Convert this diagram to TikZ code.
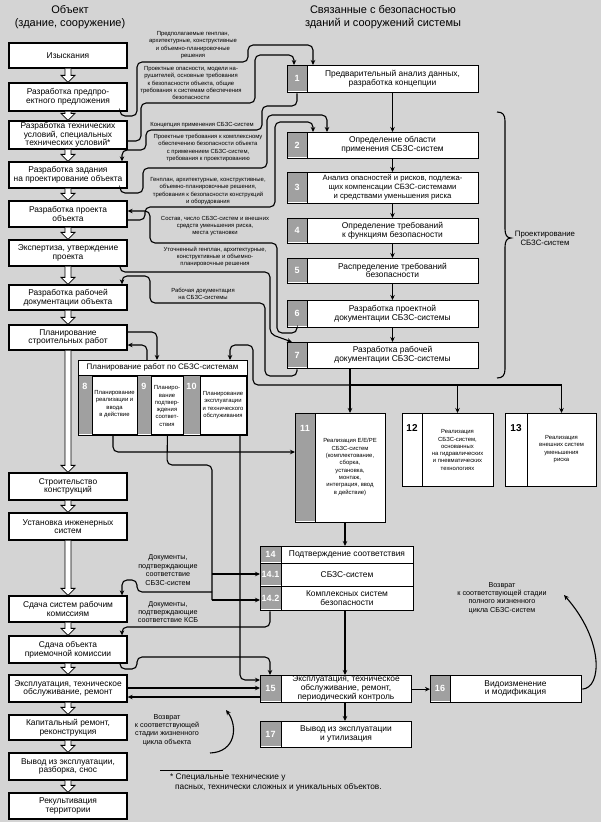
\documentclass[tikz,border=0pt]{standalone}
\usepackage{fontspec}
\setmainfont{Liberation Sans}
\usetikzlibrary{arrows.meta,calc}
\definecolor{bg}{HTML}{D4D4D4}
\definecolor{numgray}{HTML}{A0A0A0}
\newcommand\lbox[4]{\node[box,ltxt,minimum width=118,minimum height={#3-#2}] (#1) at (68,{(#2+#3)/2}) {#4};}
\newcommand\harrow[2]{\draw[hollow] ([xshift=-3pt]#1.south) -- ([xshift=-3pt,yshift=7pt]#2.north) -- ([xshift=-7pt,yshift=7pt]#2.north) -- (#2.north) -- ([xshift=7pt,yshift=7pt]#2.north) -- ([xshift=3pt,yshift=7pt]#2.north) -- ([xshift=3pt]#1.south);}
% name x1 y1 x2 y2 strip num numy text
\newcommand\nbox[9]{%
  \node[box,minimum width={#4-#2},minimum height={#5-#3},anchor=north west] (#1) at (#2,#3) {};
  \fill[numgray] ({#2+0.6},{#3+0.6}) rectangle ({#2+#6},{#5-0.6});
  \draw[line width=0.9pt] ({#2+#6},#3) -- ({#2+#6},#5);
  \node[ntxt] (#1n) at ({#2+#6/2},#8) {#7};
  \node[btxt] (#1t) at ({(#2+#6+#4)/2},{(#3+#5)/2}) {#9};}
\begin{document}
\begin{tikzpicture}[x=1pt,y=-1pt,
  box/.style={draw,line width=1.3pt,fill=white,inner sep=0pt},
  ltxt/.style={align=center,font=\fontsize{8.4}{8.7}\selectfont,inner sep=0pt},
  btxt/.style={align=center,font=\fontsize{8.4}{8.7}\selectfont,inner sep=0pt},
  stxt/.style={align=center,font=\fontsize{5.9}{7.3}\selectfont,inner sep=0pt},
  mtxt/.style={align=center,font=\fontsize{7.2}{8.4}\selectfont,inner sep=0pt},
  ntxt/.style={font=\bfseries\fontsize{9}{9}\selectfont,text=white,inner sep=0pt},
  con/.style={line width=1.1pt,rounded corners=5pt},
  arr/.style={con,-{Stealth[length=5pt,width=4.5pt]}},
  hollow/.style={fill=white,draw=black,line width=0.8pt},
]
\useasboundingbox (0,0) rectangle (606,822);
\fill[bg] (0,0) rectangle (601,822);
\fill[white] (601,0) rectangle (606,822);

% titles
\node[align=center,font=\fontsize{11}{13}\selectfont] (TL) at (70,17.5) {Объект\\(здание, сооружение)};
\node[align=center,font=\fontsize{11}{13}\selectfont] (TR) at (383,17.5) {Связанные с безопасностью\\зданий и сооружений системы};

% left column
\lbox{L1}{43}{68}{Изыскания}
\lbox{L2}{83}{111}{Разработка предпро-\\ектного предложения}
\lbox{L3}{121}{149}{Разработка технических\\условий, специальных\\технических условий*}
\lbox{L4}{162}{188}{Разработка задания\\на проектирование объекта}
\lbox{L5}{201}{227}{Разработка проекта\\объекта}
\lbox{L6}{240}{266}{Экспертиза, утверждение\\проекта}
\lbox{L7}{285}{310}{Разработка рабочей\\документации объекта}
\lbox{L8}{325}{350}{Планирование\\строительных работ}
\lbox{L9}{473}{500}{Строительство\\конструкций}
\lbox{L10}{513}{540}{Установка инженерных\\систем}
\lbox{L11}{596}{622}{Сдача систем рабочим\\комиссиям}
\lbox{L12}{636}{663}{Сдача объекта\\приемочной комиссии}
\lbox{L13}{675}{702}{Эксплуатация, техническое\\обслуживание, ремонт}
\lbox{L14}{715}{740}{Капитальный ремонт,\\реконструкция}
\lbox{L15}{753}{780}{Вывод из эксплуатации,\\разборка, снос}
\lbox{L16}{793}{819}{Рекультивация\\территории}
\harrow{L1}{L2}\harrow{L2}{L3}\harrow{L3}{L4}\harrow{L4}{L5}\harrow{L5}{L6}
\harrow{L6}{L7}\harrow{L7}{L8}\harrow{L8}{L9}\harrow{L9}{L10}\harrow{L10}{L11}
\harrow{L11}{L12}\harrow{L12}{L13}\harrow{L13}{L14}\harrow{L14}{L15}\harrow{L15}{L16}

% right column
\nbox{B1}{287}{65}{478}{92}{20}{1}{78.5}{Предварительный анализ данных,\\разработка концепции}
\nbox{B2}{287}{132}{478}{158}{20}{2}{145}{Определение области\\применения СБЗС-систем}
\nbox{B3}{287}{172}{478}{203}{20}{3}{187.5}{\fontsize{7.7}{8.7}\selectfont Анализ опасностей и рисков, подлежа-\\\fontsize{7.7}{8.7}\selectfont щих компенсации СБЗС-системами\\\fontsize{7.7}{8.7}\selectfont и средствами уменьшения риска}
\nbox{B4}{287}{218}{478}{243}{20}{4}{230.5}{Определение требований\\к функциям безопасности}
\nbox{B5}{287}{258}{478}{283}{20}{5}{270.5}{Распределение требований\\безопасности}
\nbox{B6}{287}{300}{478}{327}{20}{6}{313.5}{Разработка проектной\\документации СБЗС-системы}
\nbox{B7}{287}{342}{478}{368}{20}{7}{355}{Разработка рабочей\\документации СБЗС-системы}
\draw[arr] (B1t |- B1.south) -- (B1t |- B2.north);
\draw[arr] (B2t |- B2.south) -- (B2t |- B3.north);
\draw[arr] (B3t |- B3.south) -- (B3t |- B4.north);
\draw[arr] (B4t |- B4.south) -- (B4t |- B5.north);
\draw[arr] (B5t |- B5.south) -- (B5t |- B6.north);
\draw[arr] (B6t |- B6.south) -- (B6t |- B7.north);

% brace
\draw[line width=1.1pt] (497,112) .. controls (503,112) and (505,115) .. (505,121) -- (505,229) .. controls (505,235) and (507,238) .. (511,238) .. controls (507,238) and (505,241) .. (505,247) -- (505,369) .. controls (505,375) and (503,378) .. (497,378);
\node[mtxt,font=\fontsize{7.8}{9}\selectfont] (BR) at (545,238) {Проектирование\\СБЗС-систем};

% planning box
\node[box,minimum width=169,minimum height=75,anchor=north west] (P) at (78,360) {};
\draw[line width=1pt] (78,375) -- (247,375);
\node[btxt,font=\fontsize{8}{9}\selectfont] (Ph) at (162.5,367.5) {Планирование работ по СБЗС-системам};
\fill[numgray] (78.7,375.5) rectangle (246.3,434.3);
\node[box,line width=0.9pt,minimum width=45,minimum height=58,anchor=north west] (P8) at (92,376) {};
\node[box,line width=0.9pt,minimum width=32,minimum height=58,anchor=north west] (P9) at (151,376) {};
\node[box,line width=0.9pt,minimum width=46,minimum height=58,anchor=north west] (P10) at (200,376) {};
\node[ntxt] (P8n) at (85,386) {8};
\node[ntxt] (P9n) at (144,386) {9};
\node[ntxt] (P10n) at (191.5,386) {10};
\node[stxt] (P8t) at (114.5,404) {Планирование\\реализации и\\ввода\\в действие};
\node[stxt] (P9t) at (167,406) {Планиро-\\вание\\подтвер-\\ждения\\соответ-\\ствия};
\node[stxt] (P10t) at (223,405) {Планирование\\эксплуатации\\и технического\\обслуживания};

% boxes 11 12 13
\nbox{B11}{295}{413}{385}{522}{20}{11}{428}{}
\node[stxt] (B11x) at (350,467) {Реализация Е/Е/РЕ\\СБЗС-систем\\(комплектование,\\сборка,\\установка,\\монтаж,\\интеграция, ввод\\в действие)};
\node[box,minimum width=91,minimum height=73,anchor=north west] (B12) at (402,413) {};
\draw[line width=0.9pt] (422,413) -- (422,486);
\node[font=\bfseries\fontsize{10}{10}\selectfont,inner sep=0] (B12n) at (412,428) {12};
\node[stxt] (B12t) at (457.5,450) {Реализация\\СБЗС-систем,\\основанных\\на гидравлических\\и пневматических\\технологиях};
\node[box,minimum width=91,minimum height=73,anchor=north west] (B13) at (505,413) {};
\draw[line width=0.9pt] (527,413) -- (527,486);
\node[font=\bfseries\fontsize{10}{10}\selectfont,inner sep=0] (B13n) at (516,428) {13};
\node[stxt] (B13t) at (561.5,449) {Реализация\\внешних систем\\уменьшения\\риска};

% 14 group
\nbox{B14}{260}{546}{413}{563}{21}{14}{554.5}{Подтверждение соответствия}
\nbox{B141}{260}{563}{413}{586}{21}{14.1}{574.5}{СБЗС-систем}
\nbox{B142}{260}{586}{413}{610}{21}{14.2}{598}{Комплексных систем\\безопасности}
\nbox{B15}{260}{675}{411}{702}{21}{15}{688.5}{Эксплуатация, техническое\\обслуживание, ремонт,\\периодический контроль}
\nbox{B17}{260}{721}{411}{747}{21}{17}{734}{Вывод из эксплуатации\\и утилизация}
\nbox{B16}{430}{675}{581}{702}{20}{16}{688.5}{Видоизменение\\и модификация}

% bus from 7
\coordinate (busA) at (350,385);
\draw[arr] (B7.south -| busA) -- (B11.north -| busA);
\draw[con] (busA) -- (562,385);
\draw[arr] (B12t |- busA) -- (B12t |- B12.north);
\draw[arr] (B13t |- busA) -- (B13t |- B13.north);
\draw[arr] (busA) -- (253,385) -- (253,345) -- (230,345) -- (P.north -| 230,0);

% planning connections
\draw[arr] (L8.east |- 0,332) -- (157,332) -- (P.north -| 157,0);
\draw[arr] (P.north -| 147,0) -- (147,345) -- (L8.east |- 0,345);
\draw[arr] (P8.south -| 113,0) -- (113,452) -- (B11.west |- 0,452);
\draw[con] (P9.south) -- (167,465) -- (212,465) -- (212,600);
\coordinate (j9) at (212,592);
\draw[arr] (212,600) -- (B142.west |- 0,600);
\draw[arr] (212,574) -- (B141.west |- 0,574);
\draw[arr] (P10.south -| 240,0) -- (240,680) -- (B15.west |- 0,680);

% 14 -> left, 15 etc
\draw[arr] (B11.south -| 345,0) -- (B14.north -| 345,0);
\draw[arr] (B142.south -| 345,0) -- (B15.north -| 345,0);
\draw[arr] (B15.south -| 345,0) -- (B17.north -| 345,0);
\draw[arr] (B15.east) -- (B16.west);
\draw[arr] (B142.south -| 270,0) -- (270,627) -- (122,627) -- (L12.north -| 122,0);
\draw[arr] (j9) -- (137,592) -- (137,580) -- (122,580) -- (L11.north -| 122,0);
\draw[arr] (L12.south -| 120,0) -- (120,669) -- (137,669) -- (137,657) -- (270,657) -- (B15.north -| 270,0);
\draw[arr] (L13.east |- 0,688) -- (B15.west |- 0,688);
\draw[arr] (B15.west |- 0,697) -- (L13.east |- 0,697);
\draw[arr,rounded corners=0] (B16.east) .. controls (602,688) and (604,640) .. (564,595);
\draw[arr,rounded corners=0] (210,753) .. controls (236,752) and (238,726) .. (226,710);

% labels lower
\node[mtxt] (D1) at (168,570) {Документы,\\подтверждающие\\соответствие\\СБЗС-систем};
\node[mtxt] (D2) at (168,612) {Документы,\\подтверждающие\\соответствие КСБ};
\node[mtxt] (R1) at (502,598) {Возврат\\к соответствующей стадии\\полного жизненного\\цикла СБЗС-систем};
\node[mtxt] (R2) at (167,730) {Возврат\\к соответствующей\\стадии жизненного\\цикла объекта};
\draw[line width=0.8pt] (160,770) -- (223,770);
\node[align=left,font=\fontsize{8.3}{10}\selectfont,inner sep=0,anchor=north west] (FN) at (170,773) {* Специальные технические у\\\hspace*{5pt}пасных, технически сложных и уникальных объектов.};

% upper labels
\node[stxt] (LA) at (193,45) {Предполагаемые генплан,\\архитектурные, конструктивные\\и объемно-планировочные\\решения};
\node[stxt] (LB) at (191,83) {Проектные опасности, модели на-\\рушителей, основные требования\\к безопасности объекта, общие\\требования к системам обеспечения\\безопасности};
\node[stxt] (LC) at (202,125) {Концепция применения СБЗС-систем};
\node[stxt] (LD) at (208,148) {Проектные требования к комплексному\\обеспечению безопасности объекта\\с применением СБЗС-систем,\\требования к проектированию};
\node[stxt] (LE) at (208,191) {Генплан, архитектурные, конструктивные,\\объемно-планировочные решения,\\требования к безопасности конструкций\\и оборудования};
\node[stxt] (LF) at (215,226) {Состав, число СБЗС-систем и внешних\\средств уменьшения риска,\\места установки};
\node[stxt] (LG) at (215,257) {Уточненный генплан, архитектурные,\\конструктивные и объемно-\\планировочные решения};
\node[stxt] (LH) at (203,294) {Рабочая документация\\на СБЗС-системы};

% upper connectors
\draw[arr] (L2.south -| 120,0) -- (120,116) -- (137,116) -- (137,62) -- (248,62) -- (248,45) -- (313,45) -- (B1.north -| 313,0);
\draw[arr] (L3.east |- 0,141) -- (141,141) -- (141,103) -- (255,103) -- (255,55) -- (294,55) -- (B1.north -| 294,0);
\draw[arr] (B1.south -| 297,0) -- (297,106) -- (262,106) -- (262,130) -- (146,130) -- (146,150) -- (122,150) -- (L4.north -| 122,0);
\draw[arr] (L4.south -| 120,0) -- (120,193) -- (143,193) -- (143,168) -- (267,168) -- (267,115) -- (327,115) -- (B2.north -| 327,0);
\draw[arr] (L5.east |- 0,220) -- (145,220) -- (145,207) -- (275,207) -- (275,122) -- (313,122) -- (B2.north -| 313,0);
\draw[arr] (B6.south -| 297,0) -- (297,333) -- (277,333) -- (277,243) -- (150,243) -- (150,211) -- (L5.east |- 0,211);
\draw[arr] (L6.south -| 120,0) -- (120,272) -- (270,272) -- (270,334) -- (292,342);
\draw[arr] (B7.south -| 297,0) -- (297,376) -- (265,376) -- (265,303) -- (150,303) -- (150,276) -- (122,276) -- (L7.north -| 122,0);
\end{tikzpicture}
\end{document}
